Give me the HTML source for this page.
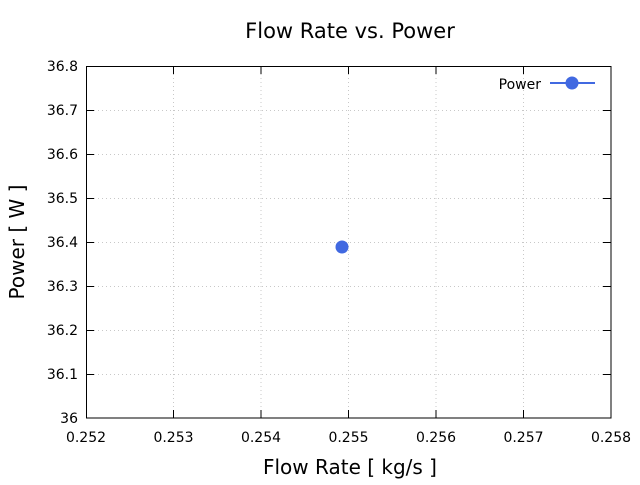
<!DOCTYPE html>
<html><head><style>body{margin:0;background:#fff}</style></head><body>
<svg width="640" height="480" xmlns="http://www.w3.org/2000/svg" font-family="'DejaVu Sans','Liberation Sans',sans-serif">
<rect width="640" height="480" fill="#fff"/>
<g stroke="#c8c8c8" stroke-width="1" stroke-dasharray="1,3">
<line x1="173.5" y1="66" x2="173.5" y2="418"/><line x1="261" y1="66" x2="261" y2="418"/>
<line x1="348.5" y1="66" x2="348.5" y2="418"/><line x1="436" y1="66" x2="436" y2="418"/>
<line x1="523.5" y1="66" x2="523.5" y2="418"/>
<line x1="86" y1="110.5" x2="611" y2="110.5"/><line x1="86" y1="154.5" x2="611" y2="154.5"/>
<line x1="86" y1="198.5" x2="611" y2="198.5"/><line x1="86" y1="242.5" x2="611" y2="242.5"/>
<line x1="86" y1="286.5" x2="611" y2="286.5"/><line x1="86" y1="330.5" x2="611" y2="330.5"/>
<line x1="86" y1="374.5" x2="611" y2="374.5"/>
</g>
<g stroke="#000" stroke-width="1">
<rect x="86.5" y="66.5" width="524.5" height="351.5" fill="none"/>
<path d="M173.5 418v-8M261 418v-8M348.5 418v-8M436 418v-8M523.5 418v-8M173.5 66v8M261 66v8M348.5 66v8M436 66v8M523.5 66v8"/>
<path d="M86 110.5h8M86 154.5h8M86 198.5h8M86 242.5h8M86 286.5h8M86 330.5h8M86 374.5h8M611 110.5h-8M611 154.5h-8M611 198.5h-8M611 242.5h-8M611 286.5h-8M611 330.5h-8M611 374.5h-8"/>
</g>
<g font-size="14" fill="#000" text-anchor="end">
<text x="78" y="71">36.8</text><text x="78" y="115">36.7</text><text x="78" y="159">36.6</text>
<text x="78" y="203">36.5</text><text x="78" y="247">36.4</text><text x="78" y="291">36.3</text>
<text x="78" y="335">36.2</text><text x="78" y="379">36.1</text><text x="78" y="423">36</text>
</g>
<g font-size="14" fill="#000" text-anchor="middle">
<text x="86" y="442">0.252</text><text x="173.5" y="442">0.253</text><text x="261" y="442">0.254</text>
<text x="348.5" y="442">0.255</text><text x="436" y="442">0.256</text><text x="523.5" y="442">0.257</text><text x="611" y="442">0.258</text>
</g>
<text x="350" y="38" font-size="21" text-anchor="middle">Flow Rate vs. Power</text>
<text x="350" y="474" font-size="20" text-anchor="middle">Flow Rate [ kg/s ]</text>
<text transform="translate(24,242) rotate(-90)" font-size="20" text-anchor="middle">Power [ W ]</text>
<text x="541" y="89" font-size="14" text-anchor="end">Power</text>
<line x1="550" y1="83" x2="595" y2="83" stroke="#4169e1" stroke-width="2"/>
<circle cx="572" cy="83" r="6.5" fill="#4169e1"/>
<circle cx="342" cy="247" r="6.5" fill="#4169e1"/>
</svg>
</body></html>
